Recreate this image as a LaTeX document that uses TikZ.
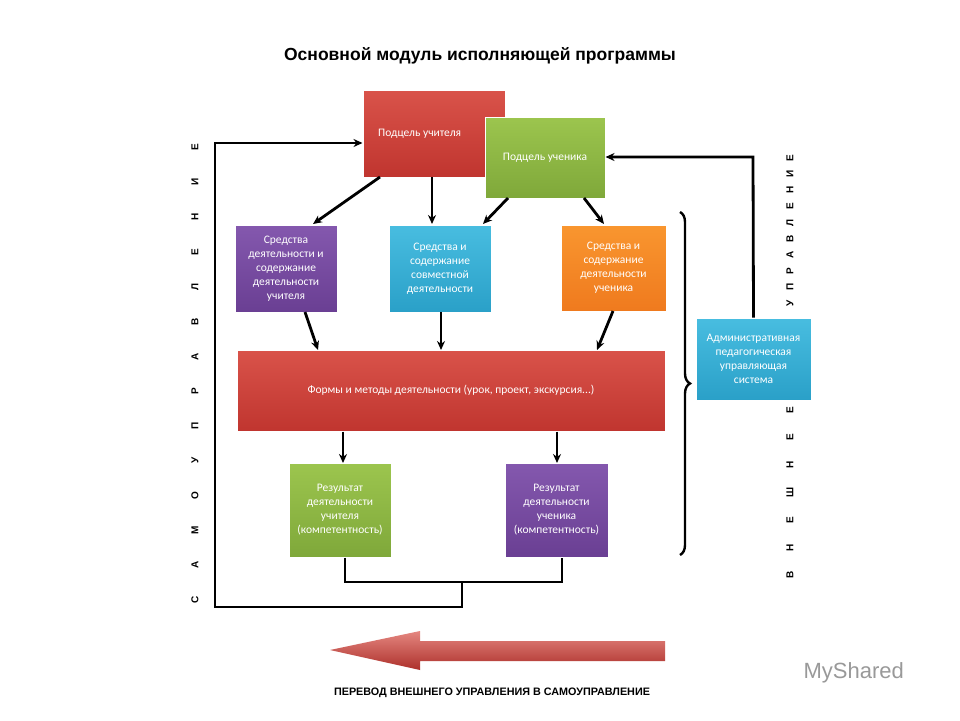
\documentclass[tikz,border=0pt]{standalone}
\usepackage{fontspec}
\setmainfont{Carlito}
\newfontfamily\titlefont{Liberation Sans}
\usetikzlibrary{arrows.meta,decorations.pathreplacing}
\definecolor{rd}{HTML}{C0352F}\definecolor{rdl}{HTML}{D9534A}
\definecolor{gn}{HTML}{7FA83A}\definecolor{gnl}{HTML}{9CC54E}
\definecolor{pu}{HTML}{6A3F93}\definecolor{pul}{HTML}{8458AE}
\definecolor{cy}{HTML}{2AA0C8}\definecolor{cyl}{HTML}{48BDE0}
\definecolor{og}{HTML}{EF7A1E}\definecolor{ogl}{HTML}{F9962F}
\tikzset{
 box/.style={draw=white,line width=1pt,inner sep=2pt,align=center,text=white,font=\fontsize{11.5}{14}\selectfont,shading=axis},
 rbox/.style={box,top color=rdl,bottom color=rd},
 gbox/.style={box,top color=gnl,bottom color=gn},
 pbox/.style={box,top color=pul,bottom color=pu},
 cbox/.style={box,top color=cyl,bottom color=cy},
 obox/.style={box,top color=ogl,bottom color=og},
 arr/.style={-{Stealth[length=9pt,width=8pt]},line width=2.8pt},
 ln/.style={line width=2.8pt},
 vlet/.style={rotate=90,font=\titlefont\bfseries\fontsize{10}{11}\selectfont}
}
\begin{document}
\begin{tikzpicture}[x=1pt,y=-1pt]
\useasboundingbox (0,0) rectangle (960,720);
\fill[white] (0,0) rectangle (960,720);
\node[font=\titlefont\bfseries\fontsize{17.5}{20}\selectfont] (title) at (480,56) {Основной  модуль исполняющей программы};
\node[rbox,minimum width=142,minimum height=87] (pt) at (434,133.5) {Подцель учителя\hspace*{2.5em}};
\node[gbox,minimum width=120,minimum height=81] (ps) at (545,157.5) {Подцель ученика};
\node[pbox,minimum width=102,minimum height=87] (s1) at (286,268.5) {Средства\\деятельности и\\содержание\\деятельности\\учителя};
\node[cbox,minimum width=102,minimum height=87] (s2) at (440,268.5) {Средства и\\содержание\\совместной\\деятельности};
\node[obox,minimum width=105,minimum height=86] (s3) at (613.5,268) {Средства и\\содержание\\деятельности\\ученика};
\node[rbox,minimum width=428,minimum height=81] (fm) at (451,390.5) {Формы и методы  деятельности  (урок, проект,  экскурсия...)};
\node[gbox,minimum width=102,minimum height=94] (r1) at (340,510) {Результат\\деятельности\\учителя\\(компетентность)};
\node[pbox,minimum width=103,minimum height=94] (r2) at (556.5,510) {Результат\\деятельности\\ученика\\(компетентность)};
\node[cbox,minimum width=115,minimum height=82] (ad) at (753.5,359) {Административная\\педагогическая\\управляющая\\система};
% arrows
\draw[arr] (380,177) -- (313,224);
\draw[arr] (432,177) -- (432,224);
\draw[arr] (508,198) -- (483,224);
\draw[arr] (584,198) -- (604,224);
\draw[arr] (305,312) -- (318,350);
\draw[arr] (441,312) -- (441,350);
\draw[arr] (613,311) -- (597,350);
\draw[arr] (fm.south -| 343,0) -- (343,463);
\draw[arr] (fm.south -| 557,0) -- (557,463);
\coordinate (j1) at (345,582); \coordinate (j2) at (562,582); \coordinate (jm) at (462,582);
\draw[ln] (r1.south -| j1) -- (j1) -- (j2) -- (r2.south -| j2);
\coordinate (c1) at (462,607); \coordinate (c2) at (215,607); \coordinate (c3) at (215,143);
\draw[arr,line join=miter] (jm) -- (c1) -- (c2) -- (c3) -- (pt.west |- c3);
\coordinate (d1) at (753,157);
\draw[arr] (ad.north) -- (d1) -- (ps.east |- d1);
\draw[line width=2.4pt,decorate,decoration={brace,amplitude=10pt}] (680,212) -- (680,555);
% vertical letters
\foreach \l [count=\i] in {С,А,М,О,У,П,Р,А,В,Л,Е,Н,И,Е}
  \node[vlet] (L\i) at (195,{600-(\i-1)*34.8}) {\l};
\foreach \l [count=\i] in {В,Н,Е,Ш,Н,Е,Е}
  \node[vlet] (R\i) at (790,{575-(\i-1)*27.5}) {\l};
\foreach \l [count=\i] in {У,П,Р,А,В,Л,Е,Н,И,Е}
  \node[vlet] (U\i) at (790,{303-(\i-1)*16.1}) {\l};
% big arrow
\shade[top color=rdl!70,bottom color=rd!90!black] (330,650) -- (420,631) -- (420,641) -- (665,641) -- (665,661) -- (420,661) -- (420,670) -- cycle;
\node[font=\titlefont\bfseries\fontsize{10.8}{12}\selectfont] (cap) at (492,693) {ПЕРЕВОД ВНЕШНЕГО  УПРАВЛЕНИЯ  В САМОУПРАВЛЕНИЕ};
\node[text=gray!80,font=\titlefont\fontsize{22}{24}\selectfont,anchor=west] (ms) at (800,673) {MyShared};
\end{tikzpicture}
\end{document}
